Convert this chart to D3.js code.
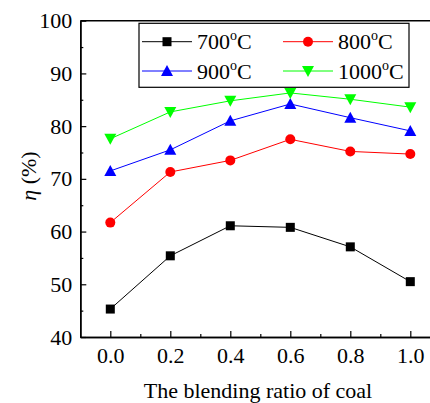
<!DOCTYPE html>
<html><head><meta charset="utf-8">
<script src="https://cdn.jsdelivr.net/npm/d3@7"></script>
<style>body{margin:0;background:#fff}svg{display:block}</style>
</head><body><svg id="c" width="430" height="403"></svg>
<script>
const ratios = [0.0, 0.2, 0.4, 0.6, 0.8, 1.0];
const s700 = [45.3, 55.4, 61.1, 60.8, 57.1, 50.5];
const s800 = [61.7, 71.3, 73.5, 77.5, 75.2, 74.7];
const s900 = [71.5, 75.5, 81.0, 84.2, 81.6, 79.1];
const s1000 = [77.6, 82.7, 84.8, 86.3, 85.1, 83.6];
const seriesNames = ["700", "800", "900", "1000"];
const yTicks = [40, 50, 60, 70, 80, 90, 100];
const xTicks = [0.0, 0.2, 0.4, 0.6, 0.8, 1.0];

const FONT = "'Liberation Serif', 'Times New Roman', serif";
const series = [
  {name: seriesNames[0], values: s700, color: "#000000", marker: "square"},
  {name: seriesNames[1], values: s800, color: "#ff0000", marker: "circle"},
  {name: seriesNames[2], values: s900, color: "#0000ff", marker: "triangle"},
  {name: seriesNames[3], values: s1000, color: "#00ff00", marker: "down"}
];

const svg = d3.select("#c");
const x = d3.scaleLinear().domain([-0.1, 1.1]).range([80.3, 440.3]);
const y = d3.scaleLinear().domain([40, 100]).range([337, 20.7]);

svg.append("line").attr("x1", x(-0.1)).attr("x2", x(1.1)).attr("y1", y(100)).attr("y2", y(100)).attr("stroke", "#000").attr("stroke-width", 1.5);

const xAxis = svg.append("g").attr("transform", `translate(0,${y(40)})`)
  .call(d3.axisBottom(x).tickValues(xTicks).tickFormat(d3.format(".1f")).tickSizeInner(-6).tickSizeOuter(0).tickPadding(10));
const xMinor = svg.append("g").attr("transform", `translate(0,${y(40)})`)
  .call(d3.axisBottom(x).tickValues([0.1, 0.3, 0.5, 0.7, 0.9]).tickFormat("").tickSizeInner(-3).tickSizeOuter(0));
const yAxis = svg.append("g").attr("transform", `translate(${x(-0.1)},0)`)
  .call(d3.axisLeft(y).tickValues(yTicks).tickSizeInner(-6).tickSizeOuter(0).tickPadding(8));
const yMinor = svg.append("g").attr("transform", `translate(${x(-0.1)},0)`)
  .call(d3.axisLeft(y).tickValues([45, 55, 65, 75, 85, 95]).tickFormat("").tickSizeInner(-3).tickSizeOuter(0));
[xAxis, xMinor, yAxis, yMinor].forEach(g => {
  g.attr("font-family", null);
  g.select(".domain").attr("stroke-width", 1.5);
  g.selectAll(".tick line").attr("stroke-width", 1.2);
  g.selectAll("text").style("font-family", FONT).style("font-size", "22px").attr("fill", "#000");
});

function drawMarker(g, type, color, cx, cy) {
  if (type === "square") g.append("rect").attr("x", cx - 4.5).attr("y", cy - 4.5).attr("width", 9).attr("height", 9).attr("fill", color);
  else if (type === "circle") g.append("circle").attr("cx", cx).attr("cy", cy).attr("r", 5).attr("fill", color);
  else if (type === "triangle") g.append("path").attr("d", `M${cx},${cy-6}L${cx+6},${cy+5}L${cx-6},${cy+5}Z`).attr("fill", color);
  else g.append("path").attr("d", `M${cx},${cy+6}L${cx+6},${cy-5}L${cx-6},${cy-5}Z`).attr("fill", color);
}

const line = d3.line().x((d, i) => x(ratios[i])).y(d => y(d));
series.forEach(s => {
  svg.append("path").datum(s.values).attr("d", line).attr("fill", "none").attr("stroke", s.color).attr("stroke-width", 1);
  const g = svg.append("g");
  s.values.forEach((v, i) => drawMarker(g, s.marker, s.color, x(ratios[i]), y(v)));
});

const lg = svg.append("g");
lg.append("rect").attr("x", 139).attr("y", 23.3).attr("width", 270).attr("height", 64).attr("fill", "#fff").attr("stroke", "#000").attr("stroke-width", 1.2);
const pos = [[142, 41.7], [283, 41.7], [142, 71], [283, 71]];
series.forEach((s, i) => {
  const [lx, ly] = pos[i];
  lg.append("line").attr("x1", lx).attr("x2", lx + 50).attr("y1", ly).attr("y2", ly).attr("stroke", s.color).attr("stroke-width", 1);
  drawMarker(lg, s.marker, s.color, lx + 25, ly);
  const t = lg.append("text").attr("x", lx + 55).attr("y", ly + 7.5).style("font-family", FONT).style("font-size", "22px").attr("fill", "#000");
  t.append("tspan").text(s.name);
  t.append("tspan").style("font-size", "14px").attr("dy", -9).text("o");
  t.append("tspan").attr("dy", 9).text("C");
});

const yl = svg.append("text").attr("transform", `translate(36,176) rotate(-90)`).attr("text-anchor", "middle").style("font-family", FONT).style("font-size", "22px");
yl.append("tspan").style("font-style", "italic").text("η");
yl.append("tspan").text(" (%)");
svg.append("text").attr("x", 258).attr("y", 398).attr("text-anchor", "middle").style("font-family", FONT).style("font-size", "22px").text("The blending ratio of coal");
</script></body></html>
